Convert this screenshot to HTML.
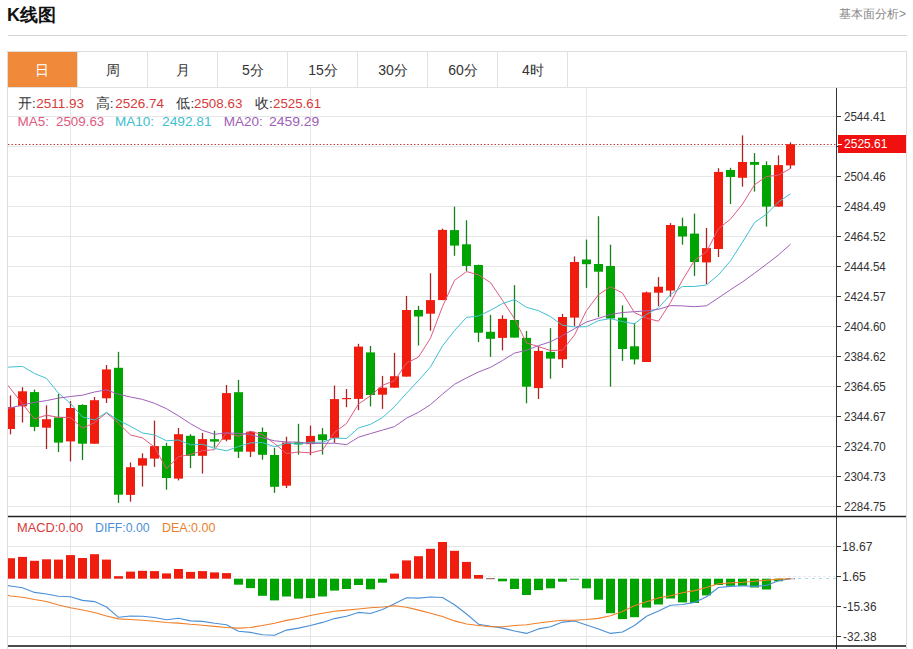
<!DOCTYPE html>
<html><head><meta charset="utf-8"><style>
html,body{margin:0;padding:0;background:#fff;}
body{width:913px;height:649px;overflow:hidden;position:relative;font-family:"Liberation Sans",sans-serif;}
.abs{position:absolute;white-space:nowrap;}
</style></head><body>
<svg class="abs" style="left:0;top:0" width="913" height="649" viewBox="0 0 913 649">
<defs>
<clipPath id="clipK"><rect x="8" y="88" width="828" height="428"/></clipPath>
<clipPath id="clipM"><rect x="8" y="517" width="828" height="129"/></clipPath>
</defs>
<line x1="8" y1="35.5" x2="907" y2="35.5" stroke="#d4d4d4" stroke-width="1"/>
<rect x="7.5" y="51.5" width="899" height="620" fill="none" stroke="#dedede" stroke-width="1"/>
<rect x="8" y="52" width="69.5" height="35" fill="#f0893a"/>
<line x1="77.5" y1="52" x2="77.5" y2="87" stroke="#e2e2e2" stroke-width="1"/><line x1="147.5" y1="52" x2="147.5" y2="87" stroke="#e2e2e2" stroke-width="1"/><line x1="217.5" y1="52" x2="217.5" y2="87" stroke="#e2e2e2" stroke-width="1"/><line x1="287.5" y1="52" x2="287.5" y2="87" stroke="#e2e2e2" stroke-width="1"/><line x1="357.5" y1="52" x2="357.5" y2="87" stroke="#e2e2e2" stroke-width="1"/><line x1="427.5" y1="52" x2="427.5" y2="87" stroke="#e2e2e2" stroke-width="1"/><line x1="497.5" y1="52" x2="497.5" y2="87" stroke="#e2e2e2" stroke-width="1"/><line x1="567.5" y1="52" x2="567.5" y2="87" stroke="#e2e2e2" stroke-width="1"/>
<line x1="8" y1="87.5" x2="906" y2="87.5" stroke="#e2e2e2" stroke-width="1"/>
<line x1="8" y1="116.5" x2="836" y2="116.5" stroke="#e6e6e6" stroke-width="1"/>
<line x1="8" y1="146.5" x2="836" y2="146.5" stroke="#e6e6e6" stroke-width="1"/>
<line x1="8" y1="176.5" x2="836" y2="176.5" stroke="#e6e6e6" stroke-width="1"/>
<line x1="8" y1="206.5" x2="836" y2="206.5" stroke="#e6e6e6" stroke-width="1"/>
<line x1="8" y1="236.5" x2="836" y2="236.5" stroke="#e6e6e6" stroke-width="1"/>
<line x1="8" y1="266.5" x2="836" y2="266.5" stroke="#e6e6e6" stroke-width="1"/>
<line x1="8" y1="296.5" x2="836" y2="296.5" stroke="#e6e6e6" stroke-width="1"/>
<line x1="8" y1="326.5" x2="836" y2="326.5" stroke="#e6e6e6" stroke-width="1"/>
<line x1="8" y1="356.5" x2="836" y2="356.5" stroke="#e6e6e6" stroke-width="1"/>
<line x1="8" y1="386.5" x2="836" y2="386.5" stroke="#e6e6e6" stroke-width="1"/>
<line x1="8" y1="416.5" x2="836" y2="416.5" stroke="#e6e6e6" stroke-width="1"/>
<line x1="8" y1="446.5" x2="836" y2="446.5" stroke="#e6e6e6" stroke-width="1"/>
<line x1="8" y1="476.5" x2="836" y2="476.5" stroke="#e6e6e6" stroke-width="1"/>
<line x1="8" y1="506.5" x2="836" y2="506.5" stroke="#e6e6e6" stroke-width="1"/>
<line x1="8" y1="546.5" x2="836" y2="546.5" stroke="#e6e6e6" stroke-width="1"/>
<line x1="8" y1="606.5" x2="836" y2="606.5" stroke="#e6e6e6" stroke-width="1"/>
<line x1="8" y1="636.5" x2="836" y2="636.5" stroke="#e6e6e6" stroke-width="1"/>
<line x1="8" y1="576.5" x2="836" y2="576.5" stroke="#ebebeb" stroke-width="1" stroke-dasharray="3,2"/>
<line x1="70.5" y1="88" x2="70.5" y2="649" stroke="#e6e6e6" stroke-width="1"/>
<line x1="310.5" y1="88" x2="310.5" y2="649" stroke="#e6e6e6" stroke-width="1"/>
<line x1="586.5" y1="88" x2="586.5" y2="649" stroke="#e6e6e6" stroke-width="1"/>
<g clip-path="url(#clipK)"><line x1="10.5" y1="395.4" x2="10.5" y2="434.3" stroke="#aa2626" stroke-width="1.3"/><rect x="6.0" y="407.1" width="9" height="21.9" fill="#f01d0e"/><line x1="22.5" y1="387.2" x2="22.5" y2="422.5" stroke="#aa2626" stroke-width="1.3"/><rect x="18.0" y="391.3" width="9" height="15.0" fill="#f01d0e"/><line x1="34.5" y1="389.6" x2="34.5" y2="431.2" stroke="#1a7e1a" stroke-width="1.3"/><rect x="30.0" y="392.1" width="9" height="34.8" fill="#00a400"/><line x1="46.5" y1="405.3" x2="46.5" y2="449.0" stroke="#aa2626" stroke-width="1.3"/><rect x="42.0" y="419.2" width="9" height="8.5" fill="#f01d0e"/><line x1="58.5" y1="393.9" x2="58.5" y2="452.1" stroke="#1a7e1a" stroke-width="1.3"/><rect x="54.0" y="417.4" width="9" height="25.2" fill="#00a400"/><line x1="70.5" y1="401.1" x2="70.5" y2="461.4" stroke="#aa2626" stroke-width="1.3"/><rect x="66.0" y="408.0" width="9" height="33.4" fill="#f01d0e"/><line x1="82.5" y1="404.2" x2="82.5" y2="460.1" stroke="#1a7e1a" stroke-width="1.3"/><rect x="78.0" y="405.0" width="9" height="38.7" fill="#00a400"/><line x1="94.5" y1="397.0" x2="94.5" y2="444.0" stroke="#aa2626" stroke-width="1.3"/><rect x="90.0" y="400.2" width="9" height="43.5" fill="#f01d0e"/><line x1="106.5" y1="365.0" x2="106.5" y2="403.0" stroke="#aa2626" stroke-width="1.3"/><rect x="102.0" y="369.4" width="9" height="28.9" fill="#f01d0e"/><line x1="118.5" y1="351.8" x2="118.5" y2="502.9" stroke="#1a7e1a" stroke-width="1.3"/><rect x="114.0" y="367.8" width="9" height="126.9" fill="#00a400"/><line x1="130.5" y1="462.4" x2="130.5" y2="501.7" stroke="#aa2626" stroke-width="1.3"/><rect x="126.0" y="467.2" width="9" height="27.7" fill="#f01d0e"/><line x1="142.5" y1="453.3" x2="142.5" y2="486.6" stroke="#aa2626" stroke-width="1.3"/><rect x="138.0" y="458.2" width="9" height="7.4" fill="#f01d0e"/><line x1="154.5" y1="420.6" x2="154.5" y2="466.9" stroke="#aa2626" stroke-width="1.3"/><rect x="150.0" y="446.1" width="9" height="12.5" fill="#f01d0e"/><line x1="166.5" y1="442.8" x2="166.5" y2="489.7" stroke="#1a7e1a" stroke-width="1.3"/><rect x="162.0" y="445.9" width="9" height="32.1" fill="#00a400"/><line x1="178.5" y1="428.0" x2="178.5" y2="480.4" stroke="#aa2626" stroke-width="1.3"/><rect x="174.0" y="434.2" width="9" height="44.4" fill="#f01d0e"/><line x1="190.5" y1="434.2" x2="190.5" y2="468.1" stroke="#1a7e1a" stroke-width="1.3"/><rect x="186.0" y="435.8" width="9" height="20.0" fill="#00a400"/><line x1="202.5" y1="432.9" x2="202.5" y2="473.6" stroke="#aa2626" stroke-width="1.3"/><rect x="198.0" y="439.1" width="9" height="16.7" fill="#f01d0e"/><line x1="214.5" y1="430.7" x2="214.5" y2="447.7" stroke="#1a7e1a" stroke-width="1.3"/><rect x="210.0" y="439.2" width="9" height="2.4" fill="#00a400"/><line x1="226.5" y1="385.0" x2="226.5" y2="441.3" stroke="#aa2626" stroke-width="1.3"/><rect x="222.0" y="393.1" width="9" height="46.6" fill="#f01d0e"/><line x1="238.5" y1="379.9" x2="238.5" y2="458.0" stroke="#1a7e1a" stroke-width="1.3"/><rect x="234.0" y="392.2" width="9" height="59.5" fill="#00a400"/><line x1="250.5" y1="431.0" x2="250.5" y2="457.0" stroke="#aa2626" stroke-width="1.3"/><rect x="246.0" y="431.7" width="9" height="20.0" fill="#f01d0e"/><line x1="262.5" y1="427.5" x2="262.5" y2="459.7" stroke="#1a7e1a" stroke-width="1.3"/><rect x="258.0" y="432.0" width="9" height="22.8" fill="#00a400"/><line x1="274.5" y1="447.8" x2="274.5" y2="492.8" stroke="#1a7e1a" stroke-width="1.3"/><rect x="270.0" y="455.0" width="9" height="31.8" fill="#00a400"/><line x1="286.5" y1="436.7" x2="286.5" y2="488.0" stroke="#aa2626" stroke-width="1.3"/><rect x="282.0" y="442.5" width="9" height="43.2" fill="#f01d0e"/><line x1="298.5" y1="423.8" x2="298.5" y2="454.6" stroke="#1a7e1a" stroke-width="1.3"/><rect x="294.0" y="442.3" width="9" height="2.1" fill="#00a400"/><line x1="310.5" y1="425.6" x2="310.5" y2="455.2" stroke="#aa2626" stroke-width="1.3"/><rect x="306.0" y="435.9" width="9" height="8.2" fill="#f01d0e"/><line x1="322.5" y1="428.1" x2="322.5" y2="454.6" stroke="#1a7e1a" stroke-width="1.3"/><rect x="318.0" y="434.3" width="9" height="5.9" fill="#00a400"/><line x1="334.5" y1="385.5" x2="334.5" y2="442.9" stroke="#aa2626" stroke-width="1.3"/><rect x="330.0" y="399.1" width="9" height="38.9" fill="#f01d0e"/><line x1="346.5" y1="389.0" x2="346.5" y2="407.2" stroke="#aa2626" stroke-width="1.3"/><rect x="342.0" y="398.0" width="9" height="1.2" fill="#f01d0e"/><line x1="358.5" y1="343.8" x2="358.5" y2="410.2" stroke="#aa2626" stroke-width="1.3"/><rect x="354.0" y="346.6" width="9" height="52.3" fill="#f01d0e"/><line x1="370.5" y1="346.0" x2="370.5" y2="406.4" stroke="#1a7e1a" stroke-width="1.3"/><rect x="366.0" y="352.4" width="9" height="42.6" fill="#00a400"/><line x1="382.5" y1="375.9" x2="382.5" y2="408.9" stroke="#aa2626" stroke-width="1.3"/><rect x="378.0" y="387.7" width="9" height="7.0" fill="#f01d0e"/><line x1="394.5" y1="352.8" x2="394.5" y2="387.7" stroke="#aa2626" stroke-width="1.3"/><rect x="390.0" y="376.2" width="9" height="11.5" fill="#f01d0e"/><line x1="406.5" y1="295.9" x2="406.5" y2="376.6" stroke="#aa2626" stroke-width="1.3"/><rect x="402.0" y="310.0" width="9" height="66.6" fill="#f01d0e"/><line x1="418.5" y1="305.8" x2="418.5" y2="345.5" stroke="#1a7e1a" stroke-width="1.3"/><rect x="414.0" y="310.0" width="9" height="6.5" fill="#00a400"/><line x1="430.5" y1="273.3" x2="430.5" y2="330.7" stroke="#aa2626" stroke-width="1.3"/><rect x="426.0" y="300.1" width="9" height="13.6" fill="#f01d0e"/><line x1="442.5" y1="228.6" x2="442.5" y2="300.1" stroke="#aa2626" stroke-width="1.3"/><rect x="438.0" y="229.9" width="9" height="70.2" fill="#f01d0e"/><line x1="454.5" y1="206.7" x2="454.5" y2="255.8" stroke="#1a7e1a" stroke-width="1.3"/><rect x="450.0" y="230.1" width="9" height="15.5" fill="#00a400"/><line x1="466.5" y1="220.3" x2="466.5" y2="271.2" stroke="#1a7e1a" stroke-width="1.3"/><rect x="462.0" y="244.3" width="9" height="21.6" fill="#00a400"/><line x1="478.5" y1="264.6" x2="478.5" y2="342.0" stroke="#1a7e1a" stroke-width="1.3"/><rect x="474.0" y="265.0" width="9" height="67.7" fill="#00a400"/><line x1="490.5" y1="314.8" x2="490.5" y2="356.8" stroke="#1a7e1a" stroke-width="1.3"/><rect x="486.0" y="331.8" width="9" height="7.0" fill="#00a400"/><line x1="502.5" y1="315.2" x2="502.5" y2="350.3" stroke="#aa2626" stroke-width="1.3"/><rect x="498.0" y="318.9" width="9" height="19.0" fill="#f01d0e"/><line x1="514.5" y1="285.2" x2="514.5" y2="337.6" stroke="#1a7e1a" stroke-width="1.3"/><rect x="510.0" y="320.0" width="9" height="17.6" fill="#00a400"/><line x1="526.5" y1="330.9" x2="526.5" y2="403.3" stroke="#1a7e1a" stroke-width="1.3"/><rect x="522.0" y="337.9" width="9" height="48.8" fill="#00a400"/><line x1="538.5" y1="346.6" x2="538.5" y2="399.0" stroke="#aa2626" stroke-width="1.3"/><rect x="534.0" y="350.9" width="9" height="37.2" fill="#f01d0e"/><line x1="550.5" y1="328.1" x2="550.5" y2="378.7" stroke="#1a7e1a" stroke-width="1.3"/><rect x="546.0" y="351.9" width="9" height="6.7" fill="#00a400"/><line x1="562.5" y1="313.9" x2="562.5" y2="367.9" stroke="#aa2626" stroke-width="1.3"/><rect x="558.0" y="317.0" width="9" height="42.3" fill="#f01d0e"/><line x1="574.5" y1="256.4" x2="574.5" y2="326.0" stroke="#aa2626" stroke-width="1.3"/><rect x="570.0" y="262.0" width="9" height="55.6" fill="#f01d0e"/><line x1="586.5" y1="239.6" x2="586.5" y2="287.9" stroke="#1a7e1a" stroke-width="1.3"/><rect x="582.0" y="259.5" width="9" height="4.7" fill="#00a400"/><line x1="598.5" y1="216.2" x2="598.5" y2="317.0" stroke="#1a7e1a" stroke-width="1.3"/><rect x="594.0" y="264.0" width="9" height="7.7" fill="#00a400"/><line x1="610.5" y1="244.7" x2="610.5" y2="386.6" stroke="#1a7e1a" stroke-width="1.3"/><rect x="606.0" y="266.0" width="9" height="52.5" fill="#00a400"/><line x1="622.5" y1="305.4" x2="622.5" y2="360.9" stroke="#1a7e1a" stroke-width="1.3"/><rect x="618.0" y="317.7" width="9" height="31.3" fill="#00a400"/><line x1="634.5" y1="323.1" x2="634.5" y2="364.4" stroke="#1a7e1a" stroke-width="1.3"/><rect x="630.0" y="346.3" width="9" height="13.1" fill="#00a400"/><line x1="646.5" y1="291.6" x2="646.5" y2="362.0" stroke="#aa2626" stroke-width="1.3"/><rect x="642.0" y="292.4" width="9" height="69.6" fill="#f01d0e"/><line x1="658.5" y1="277.1" x2="658.5" y2="306.2" stroke="#aa2626" stroke-width="1.3"/><rect x="654.0" y="286.7" width="9" height="6.0" fill="#f01d0e"/><line x1="670.5" y1="223.1" x2="670.5" y2="296.7" stroke="#aa2626" stroke-width="1.3"/><rect x="666.0" y="225.0" width="9" height="65.6" fill="#f01d0e"/><line x1="682.5" y1="217.7" x2="682.5" y2="244.7" stroke="#1a7e1a" stroke-width="1.3"/><rect x="678.0" y="226.2" width="9" height="10.3" fill="#00a400"/><line x1="694.5" y1="213.6" x2="694.5" y2="275.9" stroke="#1a7e1a" stroke-width="1.3"/><rect x="690.0" y="233.6" width="9" height="28.4" fill="#00a400"/><line x1="706.5" y1="228.0" x2="706.5" y2="284.0" stroke="#aa2626" stroke-width="1.3"/><rect x="702.0" y="248.1" width="9" height="14.3" fill="#f01d0e"/><line x1="718.5" y1="168.2" x2="718.5" y2="257.0" stroke="#aa2626" stroke-width="1.3"/><rect x="714.0" y="171.9" width="9" height="77.1" fill="#f01d0e"/><line x1="730.5" y1="167.8" x2="730.5" y2="204.0" stroke="#1a7e1a" stroke-width="1.3"/><rect x="726.0" y="170.0" width="9" height="7.0" fill="#00a400"/><line x1="742.5" y1="135.4" x2="742.5" y2="186.7" stroke="#aa2626" stroke-width="1.3"/><rect x="738.0" y="162.0" width="9" height="15.8" fill="#f01d0e"/><line x1="754.5" y1="153.1" x2="754.5" y2="191.6" stroke="#1a7e1a" stroke-width="1.3"/><rect x="750.0" y="162.0" width="9" height="2.8" fill="#00a400"/><line x1="766.5" y1="161.3" x2="766.5" y2="226.6" stroke="#1a7e1a" stroke-width="1.3"/><rect x="762.0" y="165.1" width="9" height="41.5" fill="#00a400"/><line x1="778.5" y1="155.4" x2="778.5" y2="206.6" stroke="#aa2626" stroke-width="1.3"/><rect x="774.0" y="165.1" width="9" height="41.5" fill="#f01d0e"/><line x1="790.5" y1="142.3" x2="790.5" y2="168.8" stroke="#aa2626" stroke-width="1.3"/><rect x="786.0" y="144.2" width="9" height="21.2" fill="#f01d0e"/>
<polyline points="-1.5,373.6 10.5,388.7 22.5,403.8 34.5,419.0 46.5,415.1 58.5,417.4 70.5,417.6 82.5,428.1 94.5,422.7 106.5,412.8 118.5,423.2 130.5,435.0 142.5,437.9 154.5,447.1 166.5,468.8 178.5,456.7 190.5,454.5 202.5,450.6 214.5,449.7 226.5,432.8 238.5,436.3 250.5,431.4 262.5,434.6 274.5,443.6 286.5,453.5 298.5,452.0 310.5,452.9 322.5,450.0 334.5,432.4 346.5,423.5 358.5,404.0 370.5,395.8 382.5,385.3 394.5,380.7 406.5,363.1 418.5,357.1 430.5,338.1 442.5,306.5 454.5,280.4 466.5,271.6 478.5,274.8 490.5,282.6 502.5,300.4 514.5,318.8 526.5,342.9 538.5,346.6 550.5,350.5 562.5,350.2 574.5,335.0 586.5,310.5 598.5,294.7 610.5,286.7 622.5,293.1 634.5,312.6 646.5,318.2 658.5,321.2 670.5,302.5 682.5,280.0 694.5,260.5 706.5,251.7 718.5,228.7 730.5,219.1 742.5,204.2 754.5,184.8 766.5,176.5 778.5,175.1 790.5,168.5" fill="none" stroke="#e05a80" stroke-width="1.0" stroke-linejoin="round"/>
<polyline points="-1.5,368.0 10.5,367.0 22.5,366.4 34.5,373.5 46.5,378.4 58.5,393.2 70.5,403.5 82.5,417.0 94.5,420.0 106.5,412.4 118.5,420.3 130.5,426.3 142.5,433.0 154.5,434.9 166.5,440.8 178.5,440.0 190.5,444.8 202.5,444.3 214.5,448.4 226.5,450.8 238.5,446.5 250.5,442.9 262.5,442.6 274.5,446.7 286.5,443.1 298.5,444.1 310.5,442.2 322.5,442.3 334.5,438.0 346.5,438.5 358.5,428.0 370.5,424.3 382.5,417.6 394.5,406.6 406.5,393.3 418.5,380.5 430.5,366.9 442.5,345.9 454.5,330.6 466.5,317.4 478.5,316.0 490.5,310.3 502.5,303.5 514.5,299.6 526.5,307.3 538.5,310.7 550.5,316.6 562.5,325.3 574.5,326.9 586.5,326.7 598.5,320.6 610.5,318.6 622.5,321.6 634.5,323.8 646.5,314.4 658.5,307.9 670.5,294.6 682.5,286.5 694.5,286.5 706.5,284.9 718.5,274.9 730.5,260.8 742.5,242.1 754.5,222.6 766.5,214.1 778.5,201.9 790.5,193.8" fill="none" stroke="#40c0d0" stroke-width="1.0" stroke-linejoin="round"/>
<polyline points="-1.5,410.9 10.5,407.9 22.5,404.9 34.5,402.4 46.5,400.6 58.5,398.1 70.5,396.5 82.5,395.2 94.5,392.0 106.5,389.8 118.5,394.3 130.5,397.0 142.5,399.4 154.5,403.3 166.5,408.7 178.5,415.9 190.5,423.7 202.5,430.4 214.5,434.3 226.5,432.8 238.5,433.4 250.5,434.6 262.5,437.8 274.5,440.8 286.5,442.0 298.5,442.1 310.5,443.5 322.5,443.3 334.5,443.2 346.5,444.7 358.5,437.2 370.5,433.6 382.5,430.1 394.5,426.6 406.5,418.2 418.5,412.3 430.5,404.6 442.5,394.1 454.5,384.3 466.5,377.9 478.5,372.0 490.5,367.3 502.5,360.5 514.5,353.1 526.5,350.3 538.5,345.6 550.5,341.8 562.5,335.6 574.5,328.7 586.5,322.0 598.5,318.3 610.5,314.5 622.5,312.5 634.5,311.7 646.5,310.8 658.5,309.3 670.5,305.6 682.5,305.9 694.5,306.7 706.5,305.8 718.5,297.8 730.5,289.7 742.5,281.9 754.5,273.2 766.5,264.2 778.5,254.9 790.5,244.2" fill="none" stroke="#a060b8" stroke-width="1.0" stroke-linejoin="round"/>
</g>
<g clip-path="url(#clipM)"><rect x="6.0" y="558.2" width="9" height="20.5" fill="#f01d0e"/><rect x="18.0" y="556.9" width="9" height="21.8" fill="#f01d0e"/><rect x="30.0" y="560.8" width="9" height="17.9" fill="#f01d0e"/><rect x="42.0" y="559.3" width="9" height="19.4" fill="#f01d0e"/><rect x="54.0" y="559.6" width="9" height="19.1" fill="#f01d0e"/><rect x="66.0" y="555.1" width="9" height="23.6" fill="#f01d0e"/><rect x="78.0" y="558.0" width="9" height="20.7" fill="#f01d0e"/><rect x="90.0" y="554.2" width="9" height="24.5" fill="#f01d0e"/><rect x="102.0" y="559.6" width="9" height="19.1" fill="#f01d0e"/><rect x="114.0" y="576.2" width="9" height="2.5" fill="#f01d0e"/><rect x="126.0" y="571.6" width="9" height="7.1" fill="#f01d0e"/><rect x="138.0" y="570.8" width="9" height="7.9" fill="#f01d0e"/><rect x="150.0" y="571.1" width="9" height="7.6" fill="#f01d0e"/><rect x="162.0" y="573.4" width="9" height="5.3" fill="#f01d0e"/><rect x="174.0" y="569.0" width="9" height="9.7" fill="#f01d0e"/><rect x="186.0" y="571.9" width="9" height="6.8" fill="#f01d0e"/><rect x="198.0" y="571.1" width="9" height="7.6" fill="#f01d0e"/><rect x="210.0" y="572.4" width="9" height="6.3" fill="#f01d0e"/><rect x="222.0" y="573.1" width="9" height="5.6" fill="#f01d0e"/><rect x="234.0" y="578.7" width="9" height="6.0" fill="#00a400"/><rect x="246.0" y="578.7" width="9" height="9.4" fill="#00a400"/><rect x="258.0" y="578.7" width="9" height="17.1" fill="#00a400"/><rect x="270.0" y="578.7" width="9" height="21.7" fill="#00a400"/><rect x="282.0" y="578.7" width="9" height="17.8" fill="#00a400"/><rect x="294.0" y="578.7" width="9" height="19.9" fill="#00a400"/><rect x="306.0" y="578.7" width="9" height="19.4" fill="#00a400"/><rect x="318.0" y="578.7" width="9" height="17.8" fill="#00a400"/><rect x="330.0" y="578.7" width="9" height="11.9" fill="#00a400"/><rect x="342.0" y="578.7" width="9" height="10.3" fill="#00a400"/><rect x="354.0" y="578.7" width="9" height="6.3" fill="#00a400"/><rect x="366.0" y="578.7" width="9" height="10.6" fill="#00a400"/><rect x="378.0" y="578.7" width="9" height="4.0" fill="#00a400"/><rect x="390.0" y="573.6" width="9" height="5.1" fill="#f01d0e"/><rect x="402.0" y="560.4" width="9" height="18.3" fill="#f01d0e"/><rect x="414.0" y="556.2" width="9" height="22.5" fill="#f01d0e"/><rect x="426.0" y="548.8" width="9" height="29.9" fill="#f01d0e"/><rect x="438.0" y="542.0" width="9" height="36.7" fill="#f01d0e"/><rect x="450.0" y="550.8" width="9" height="27.9" fill="#f01d0e"/><rect x="462.0" y="561.9" width="9" height="16.8" fill="#f01d0e"/><rect x="474.0" y="575.0" width="9" height="3.7" fill="#f01d0e"/><rect x="486.0" y="578.2" width="9" height="1" fill="#8a5a5a"/><rect x="498.0" y="578.7" width="9" height="2.6" fill="#00a400"/><rect x="510.0" y="578.7" width="9" height="10.3" fill="#00a400"/><rect x="522.0" y="578.7" width="9" height="16.3" fill="#00a400"/><rect x="534.0" y="578.7" width="9" height="11.4" fill="#00a400"/><rect x="546.0" y="578.7" width="9" height="9.6" fill="#00a400"/><rect x="558.0" y="578.7" width="9" height="3.0" fill="#00a400"/><rect x="570.0" y="578.7" width="9" height="1.0" fill="#00a400"/><rect x="582.0" y="578.7" width="9" height="9.6" fill="#00a400"/><rect x="594.0" y="578.7" width="9" height="21.0" fill="#00a400"/><rect x="606.0" y="578.7" width="9" height="34.5" fill="#00a400"/><rect x="618.0" y="578.7" width="9" height="40.4" fill="#00a400"/><rect x="630.0" y="578.7" width="9" height="38.5" fill="#00a400"/><rect x="642.0" y="578.7" width="9" height="28.9" fill="#00a400"/><rect x="654.0" y="578.7" width="9" height="25.8" fill="#00a400"/><rect x="666.0" y="578.7" width="9" height="19.8" fill="#00a400"/><rect x="678.0" y="578.7" width="9" height="23.7" fill="#00a400"/><rect x="690.0" y="578.7" width="9" height="24.3" fill="#00a400"/><rect x="702.0" y="578.7" width="9" height="16.7" fill="#00a400"/><rect x="714.0" y="578.7" width="9" height="6.3" fill="#00a400"/><rect x="726.0" y="578.7" width="9" height="7.1" fill="#00a400"/><rect x="738.0" y="578.7" width="9" height="7.1" fill="#00a400"/><rect x="750.0" y="578.7" width="9" height="8.8" fill="#00a400"/><rect x="762.0" y="578.7" width="9" height="10.8" fill="#00a400"/><rect x="774.0" y="578.7" width="9" height="2.5" fill="#00a400"/><rect x="786.0" y="578.2" width="9" height="1" fill="#8a5a5a"/>
<polyline points="-1.5,584.0 10.5,586.0 22.5,587.8 34.5,592.4 46.5,594.0 58.5,596.2 70.5,596.7 82.5,600.4 94.5,601.6 106.5,607.0 118.5,617.3 130.5,616.0 142.5,616.3 154.5,617.5 166.5,619.8 178.5,618.3 190.5,620.9 202.5,621.4 214.5,623.2 226.5,624.7 238.5,631.2 250.5,632.4 262.5,634.8 274.5,635.2 286.5,630.1 298.5,628.1 310.5,625.5 322.5,622.4 334.5,618.6 346.5,616.3 358.5,612.4 370.5,613.5 382.5,609.4 394.5,603.7 406.5,597.8 418.5,598.1 430.5,597.0 442.5,597.5 454.5,604.7 466.5,614.0 478.5,624.2 490.5,626.3 502.5,628.1 514.5,631.0 526.5,633.4 538.5,628.9 550.5,626.8 562.5,622.1 574.5,621.0 586.5,625.0 598.5,628.9 610.5,633.4 622.5,632.0 634.5,625.5 646.5,616.3 658.5,611.0 670.5,605.2 682.5,604.5 694.5,602.4 706.5,596.8 718.5,587.5 730.5,586.4 742.5,585.8 754.5,586.4 766.5,585.4 778.5,580.8 790.5,578.7" fill="none" stroke="#4a90d8" stroke-width="1.1" stroke-linejoin="round"/>
<polyline points="-1.5,593.2 10.5,596.0 22.5,597.2 34.5,599.5 46.5,601.5 58.5,605.0 70.5,607.8 82.5,610.0 94.5,612.5 106.5,616.0 118.5,618.9 130.5,619.5 142.5,620.2 154.5,621.3 166.5,622.5 178.5,623.1 190.5,624.3 202.5,625.2 214.5,626.4 226.5,627.5 238.5,628.1 250.5,627.5 262.5,625.5 274.5,623.2 286.5,620.4 298.5,618.3 310.5,615.5 322.5,613.2 334.5,611.2 346.5,610.1 358.5,609.0 370.5,607.8 382.5,607.0 394.5,605.8 406.5,607.3 418.5,610.1 430.5,613.2 442.5,616.5 454.5,620.9 466.5,624.0 478.5,625.5 490.5,626.8 502.5,626.8 514.5,625.5 526.5,624.7 538.5,623.0 550.5,621.5 562.5,620.2 574.5,620.2 586.5,619.5 598.5,618.4 610.5,615.8 622.5,611.6 634.5,605.8 646.5,601.8 658.5,597.9 670.5,595.8 682.5,592.7 694.5,590.6 706.5,587.5 718.5,583.7 730.5,582.9 742.5,582.3 754.5,581.2 766.5,580.2 778.5,579.1 790.5,578.7" fill="none" stroke="#f07f2a" stroke-width="1.1" stroke-linejoin="round"/>
</g>
<line x1="836.5" y1="88" x2="836.5" y2="649" stroke="#333" stroke-width="1"/>
<line x1="8" y1="516.5" x2="906" y2="516.5" stroke="#222" stroke-width="1.3"/>
<line x1="8" y1="646" x2="906" y2="646" stroke="#111" stroke-width="1.4"/>
<line x1="8" y1="144.5" x2="836" y2="144.5" stroke="#c83a3a" stroke-width="1" stroke-dasharray="1.5,2"/>
<line x1="791" y1="578.5" x2="836" y2="578.5" stroke="#a8d8ec" stroke-width="1" stroke-dasharray="3,4"/>
<line x1="837" y1="116.5" x2="841" y2="116.5" stroke="#333" stroke-width="1"/><line x1="837" y1="146.5" x2="841" y2="146.5" stroke="#333" stroke-width="1"/><line x1="837" y1="176.5" x2="841" y2="176.5" stroke="#333" stroke-width="1"/><line x1="837" y1="206.5" x2="841" y2="206.5" stroke="#333" stroke-width="1"/><line x1="837" y1="236.5" x2="841" y2="236.5" stroke="#333" stroke-width="1"/><line x1="837" y1="266.5" x2="841" y2="266.5" stroke="#333" stroke-width="1"/><line x1="837" y1="296.5" x2="841" y2="296.5" stroke="#333" stroke-width="1"/><line x1="837" y1="326.5" x2="841" y2="326.5" stroke="#333" stroke-width="1"/><line x1="837" y1="356.5" x2="841" y2="356.5" stroke="#333" stroke-width="1"/><line x1="837" y1="386.5" x2="841" y2="386.5" stroke="#333" stroke-width="1"/><line x1="837" y1="416.5" x2="841" y2="416.5" stroke="#333" stroke-width="1"/><line x1="837" y1="446.5" x2="841" y2="446.5" stroke="#333" stroke-width="1"/><line x1="837" y1="476.5" x2="841" y2="476.5" stroke="#333" stroke-width="1"/><line x1="837" y1="506.5" x2="841" y2="506.5" stroke="#333" stroke-width="1"/><line x1="837" y1="546.5" x2="841" y2="546.5" stroke="#333" stroke-width="1"/><line x1="837" y1="576.5" x2="841" y2="576.5" stroke="#333" stroke-width="1"/><line x1="837" y1="606.5" x2="841" y2="606.5" stroke="#333" stroke-width="1"/><line x1="837" y1="636.5" x2="841" y2="636.5" stroke="#333" stroke-width="1"/><rect x="838" y="135" width="68" height="18" fill="#f01010"/><line x1="838" y1="144.5" x2="842" y2="144.5" stroke="#fff" stroke-width="1"/></svg>
<div class="abs" style="left:6.90px;top:2.80px;font-size:18px;font-weight:bold;color:#111;line-height:24px;">K线图</div>
<div class="abs" style="left:839.00px;top:5.60px;font-size:12px;color:#888;line-height:16px;">基本面分析&gt;</div>
<div class="abs" style="left:36.30px;top:95.80px;font-size:13.5px;line-height:16px;color:#d63a3a;">2511.93</div>
<div class="abs" style="left:17.90px;top:95.80px;font-size:13.5px;line-height:16px;color:#333;">开:</div>
<div class="abs" style="left:115.20px;top:95.80px;font-size:13.5px;line-height:16px;color:#d63a3a;">2526.74</div>
<div class="abs" style="left:95.80px;top:95.80px;font-size:13.5px;line-height:16px;color:#333;">高:</div>
<div class="abs" style="left:194.40px;top:95.80px;font-size:13.5px;line-height:16px;color:#d63a3a;transform:scaleX(0.990);transform-origin:0 0;">2508.63</div>
<div class="abs" style="left:176.40px;top:95.80px;font-size:13.5px;line-height:16px;color:#333;">低:</div>
<div class="abs" style="left:273.20px;top:95.80px;font-size:13.5px;line-height:16px;color:#d63a3a;transform:scaleX(0.985);transform-origin:0 0;">2525.61</div>
<div class="abs" style="left:255.00px;top:95.80px;font-size:13.5px;line-height:16px;color:#333;">收:</div>
<div class="abs" style="left:56.31px;top:114.20px;font-size:13.5px;line-height:16px;color:#e05a80;transform:scaleX(0.989);transform-origin:0 0;">2509.63</div>
<div class="abs" style="left:17.40px;top:114.20px;font-size:13.5px;line-height:16px;color:#e05a80;">MA5:</div>
<div class="abs" style="left:161.78px;top:114.20px;font-size:13.5px;line-height:16px;color:#40c0d0;transform:scaleX(1.017);transform-origin:0 0;">2492.81</div>
<div class="abs" style="left:115.00px;top:114.20px;font-size:13.5px;line-height:16px;color:#40c0d0;">MA10:</div>
<div class="abs" style="left:268.77px;top:114.20px;font-size:13.5px;line-height:16px;color:#a060b8;transform:scaleX(1.032);transform-origin:0 0;">2459.29</div>
<div class="abs" style="left:223.80px;top:114.20px;font-size:13.5px;line-height:16px;color:#a060b8;">MA20:</div>
<div class="abs" style="left:17.02px;top:520.40px;font-size:13px;line-height:16px;color:#d63a3a;transform:scaleX(0.985);transform-origin:0 0;">MACD:0.00</div>
<div class="abs" style="left:95.35px;top:520.40px;font-size:13px;line-height:16px;color:#4a90d8;transform:scaleX(0.946);transform-origin:0 0;">DIFF:0.00</div>
<div class="abs" style="left:161.54px;top:520.40px;font-size:13px;line-height:16px;color:#e8802e;transform:scaleX(0.959);transform-origin:0 0;">DEA:0.00</div>
<div class="abs" style="left:843.50px;top:108.65px;font-size:13px;line-height:16px;color:#333;transform:scaleX(0.889);transform-origin:0 0;">2544.41</div>
<div class="abs" style="left:843.50px;top:168.65px;font-size:13px;line-height:16px;color:#333;transform:scaleX(0.889);transform-origin:0 0;">2504.46</div>
<div class="abs" style="left:843.50px;top:198.65px;font-size:13px;line-height:16px;color:#333;transform:scaleX(0.889);transform-origin:0 0;">2484.49</div>
<div class="abs" style="left:843.50px;top:228.65px;font-size:13px;line-height:16px;color:#333;transform:scaleX(0.889);transform-origin:0 0;">2464.52</div>
<div class="abs" style="left:843.50px;top:258.65px;font-size:13px;line-height:16px;color:#333;transform:scaleX(0.889);transform-origin:0 0;">2444.54</div>
<div class="abs" style="left:843.50px;top:288.65px;font-size:13px;line-height:16px;color:#333;transform:scaleX(0.889);transform-origin:0 0;">2424.57</div>
<div class="abs" style="left:843.50px;top:318.65px;font-size:13px;line-height:16px;color:#333;transform:scaleX(0.889);transform-origin:0 0;">2404.60</div>
<div class="abs" style="left:843.50px;top:348.65px;font-size:13px;line-height:16px;color:#333;transform:scaleX(0.889);transform-origin:0 0;">2384.62</div>
<div class="abs" style="left:843.50px;top:378.65px;font-size:13px;line-height:16px;color:#333;transform:scaleX(0.889);transform-origin:0 0;">2364.65</div>
<div class="abs" style="left:843.50px;top:408.65px;font-size:13px;line-height:16px;color:#333;transform:scaleX(0.889);transform-origin:0 0;">2344.67</div>
<div class="abs" style="left:843.50px;top:438.65px;font-size:13px;line-height:16px;color:#333;transform:scaleX(0.889);transform-origin:0 0;">2324.70</div>
<div class="abs" style="left:843.50px;top:468.65px;font-size:13px;line-height:16px;color:#333;transform:scaleX(0.889);transform-origin:0 0;">2304.73</div>
<div class="abs" style="left:843.50px;top:498.65px;font-size:13px;line-height:16px;color:#333;transform:scaleX(0.889);transform-origin:0 0;">2284.75</div>
<div class="abs" style="left:843.80px;top:136.10px;font-size:13px;line-height:16px;color:#fff;transform:scaleX(0.926);transform-origin:0 0;">2525.61</div>
<div class="abs" style="left:842.46px;top:538.65px;font-size:13px;line-height:16px;color:#333;transform:scaleX(0.935);transform-origin:0 0;">18.67</div>
<div class="abs" style="left:842.46px;top:568.65px;font-size:13px;line-height:16px;color:#333;transform:scaleX(0.938);transform-origin:0 0;">1.65</div>
<div class="abs" style="left:843.40px;top:598.65px;font-size:13px;line-height:16px;color:#333;transform:scaleX(0.908);transform-origin:0 0;">-15.36</div>
<div class="abs" style="left:843.40px;top:628.65px;font-size:13px;line-height:16px;color:#333;transform:scaleX(0.908);transform-origin:0 0;">-32.38</div>
<div class="abs" style="left:35.40px;top:61.80px;font-size:14px;line-height:16px;color:#fff;">日</div>
<div class="abs" style="left:78px;top:61.80px;width:70px;text-align:center;font-size:14px;line-height:16px;color:#333;">周</div>
<div class="abs" style="left:148px;top:61.80px;width:70px;text-align:center;font-size:14px;line-height:16px;color:#333;">月</div>
<div class="abs" style="left:218px;top:61.80px;width:70px;text-align:center;font-size:14px;line-height:16px;color:#333;">5分</div>
<div class="abs" style="left:288px;top:61.80px;width:70px;text-align:center;font-size:14px;line-height:16px;color:#333;">15分</div>
<div class="abs" style="left:358px;top:61.80px;width:70px;text-align:center;font-size:14px;line-height:16px;color:#333;">30分</div>
<div class="abs" style="left:428px;top:61.80px;width:70px;text-align:center;font-size:14px;line-height:16px;color:#333;">60分</div>
<div class="abs" style="left:498px;top:61.80px;width:70px;text-align:center;font-size:14px;line-height:16px;color:#333;">4时</div>
</body></html>
